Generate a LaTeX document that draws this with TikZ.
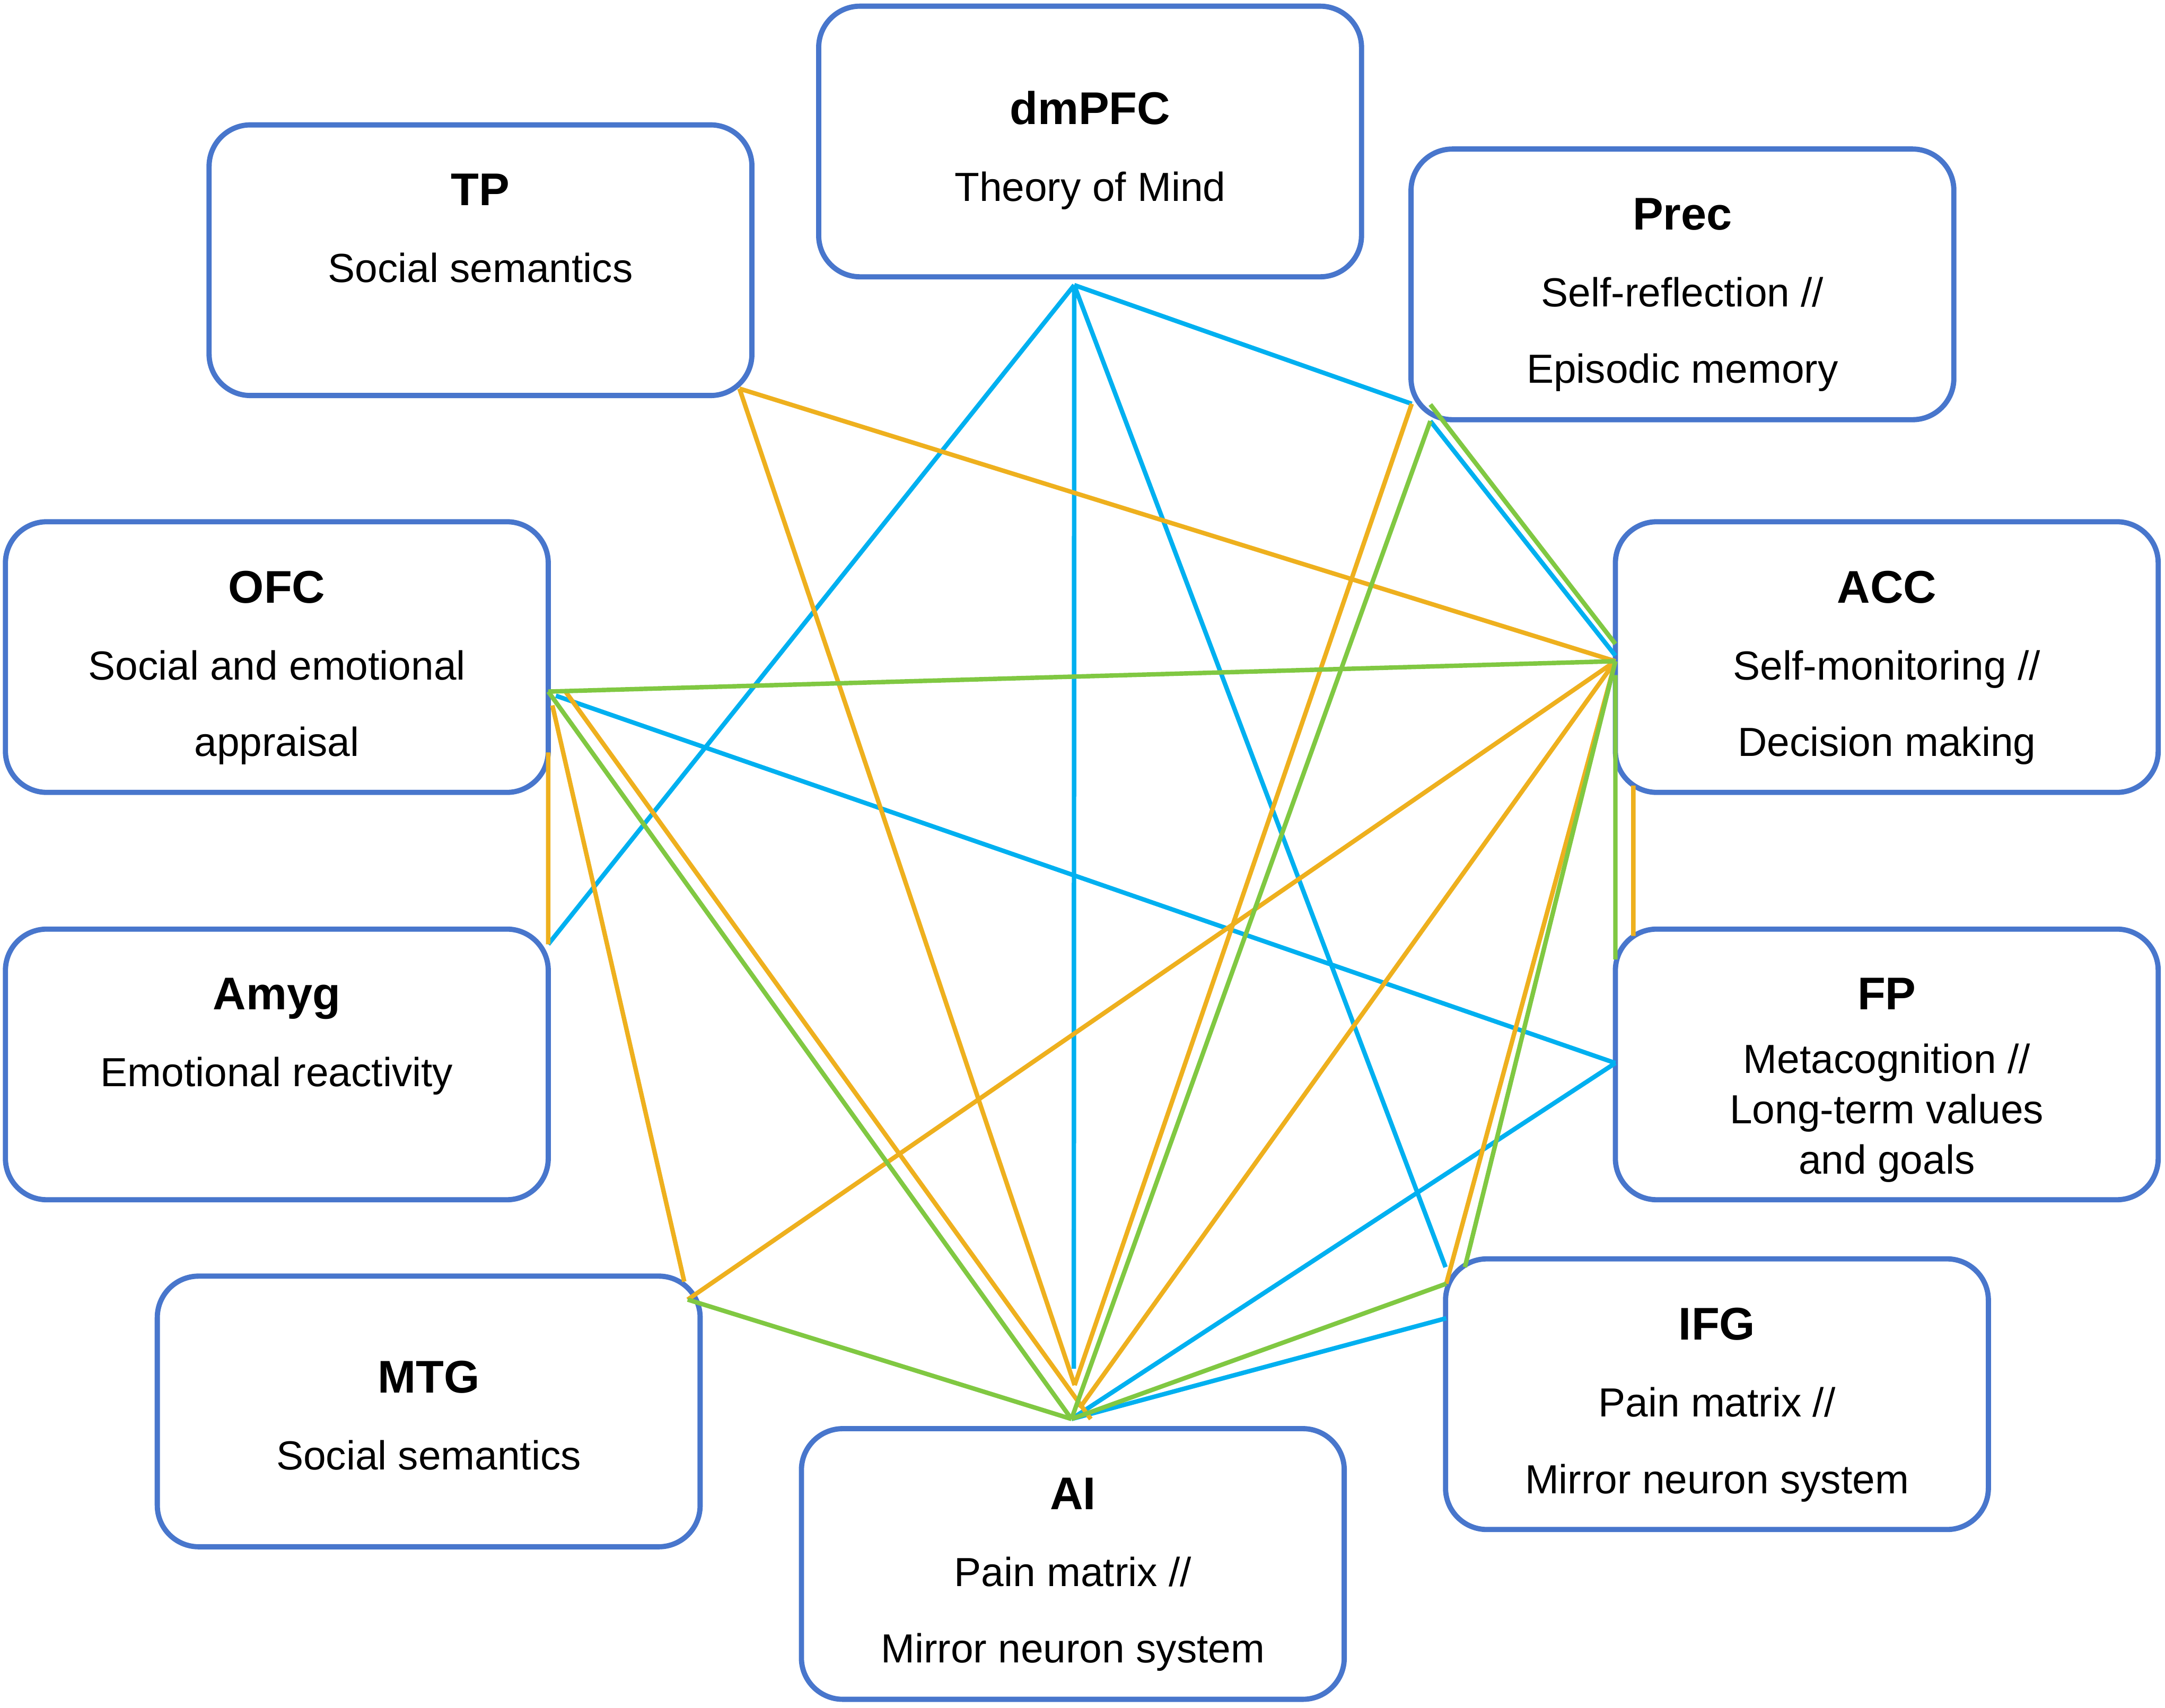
\documentclass[tikz,border=0pt]{standalone}
\usepackage{fontspec}
\setmainfont{Liberation Sans}
\usetikzlibrary{positioning,calc}
\definecolor{boxblue}{RGB}{72,118,204}
\definecolor{lnblue}{RGB}{0,176,240}
\definecolor{lnorange}{RGB}{238,176,30}
\definecolor{lngreen}{RGB}{128,200,66}
\newcommand{\areaname}[1]{{\bfseries\fontsize{12.3}{20.6}\selectfont #1}}
\tikzset{
	region/.style={
		rectangle,
		rounded corners=0.39cm,
		draw=boxblue,
		line width=1.4pt,
		fill=white,
		minimum width=5.117cm,
		minimum height=2.552cm,
		inner sep=0pt,
		outer sep=0pt,
	},
	caption/.style={
		anchor=north,
		align=center,
		inner sep=0pt,
		font=\fontsize{10.9}{20.6}\selectfont,
	},
}

\begin{document}
\begin{tikzpicture}[x=0.01302cm, y=-0.01302cm]

	\tikzstyle{blueline}=[draw=lnblue,line width=1.2pt]
	\tikzstyle{orangeline}=[draw=lnorange,line width=1.2pt]
	\tikzstyle{greenline}=[draw=lngreen,line width=1.2pt]

	\useasboundingbox (0,0) rectangle (1568,1237);

	\node [region] (dmpfc) at (789.5,102.5) {};
	\node [region] (tp) at (348,188.5) {};
	\node [region] (prec) at (1218.5,206) {};
	\node [region] (ofc) at (200.5,476) {};
	\node [region] (acc) at (1366.5,476) {};
	\node [region] (amyg) [below=1.289cm of ofc] {};
	\node [region] (fp) [below=1.289cm of acc] {};
	\node [region] (mtg) at (310.5,1022.5) {};
	\node [region] (ifg) at (1243.5,1010) {};
	\node [region] (ai) at (777,1133) {};

	\node [caption] (dmpfcT) at ([yshift=-0.794cm]dmpfc.north) {\areaname{dmPFC}\\Theory of Mind};
	\node [caption] (tpT) at ([yshift=-0.456cm]tp.north) {\areaname{TP}\\Social semantics};
	\node [caption] (precT) at ([yshift=-0.456cm]prec.north) {\areaname{Prec}\\Self-reflection //\\Episodic memory};
	\node [caption] (ofcT) at ([yshift=-0.456cm]ofc.north) {\areaname{OFC}\\Social and emotional\\appraisal};
	\node [caption] (accT) at ([yshift=-0.456cm]acc.north) {\areaname{ACC}\\Self-monitoring //\\Decision making};
	\node [caption] (amygT) at ([yshift=-0.456cm]amyg.north) {\areaname{Amyg}\\Emotional reactivity};
	\node [caption, font=\fontsize{10.9}{13.5}\selectfont] (fpT) at ([yshift=-0.456cm]fp.north) {\areaname{FP}\\[3.5pt]Metacognition //\\Long-term values\\and goals};
	\node [caption] (mtgT) at ([yshift=-0.794cm]mtg.north) {\areaname{MTG}\\Social semantics};
	\node [caption] (ifgT) at ([yshift=-0.456cm]ifg.north) {\areaname{IFG}\\Pain matrix //\\Mirror neuron system};
	\node [caption] (aiT) at ([yshift=-0.456cm]ai.north) {\areaname{AI}\\Pain matrix //\\Mirror neuron system};

	% where the links meet the boxes
	\coordinate (dmH) at ($(dmpfc.south)+(-11.5,6)$);
	\coordinate (tpC) at ($(tp.south east)+(-9,-5)$);
	\coordinate (precA) at ($(prec.south west)+(0.5,-11.5)$);
	\coordinate (precB) at ($(prec.south west)+(14,-11)$);
	\coordinate (precC) at ($(prec.south west)+(14,1)$);
	\coordinate (ofcH) at ($(ofc.east)+(0,25)$);
	\coordinate (ofcB) at ($(ofc.east)+(5.5,28)$);
	\coordinate (ofcO) at ($(ofc.east)+(12.5,25)$);
	\coordinate (ofcM) at ($(ofc.east)+(3,35)$);
	\coordinate (ofcS) at ($(ofc.south east)+(0,-29)$);
	\coordinate (accH) at ($(acc.west)+(0,3)$);
	\coordinate (accG) at ($(acc.west)+(0,-9.5)$);
	\coordinate (accB) at ($(acc.west)+(0,-1)$);
	\coordinate (accV) at ($(acc.west)+(0,13)$);
	\coordinate (accO) at ($(acc.south west)+(13,-5)$);
	\coordinate (amygC) at ($(amyg.north east)+(0,11)$);
	\coordinate (fpH) at ($(fp.west)+(0,-1)$);
	\coordinate (fpG) at ($(fp.north west)+(0,22)$);
	\coordinate (fpO) at ($(fp.north west)+(13,5)$);
	\coordinate (mtgA) at ($(mtg.north east)+(-11.5,4)$);
	\coordinate (mtgB) at ($(mtg.north east)+(-9,17)$);
	\coordinate (ifgA) at ($(ifg.north west)+(0,6)$);
	\coordinate (ifgB) at ($(ifg.north west)+(0.5,18)$);
	\coordinate (ifgC) at ($(ifg.north west)+(14,6)$);
	\coordinate (ifgD) at ($(ifg.north west)+(0.5,43)$);
	\coordinate (aiH) at ($(ai.north)+(-1,-7)$);
	\coordinate (aiB) at ($(ai.north)+(0.7,-43.5)$);
	\coordinate (aiT) at ($(ai.north)+(1.3,-31.5)$);
	\coordinate (aiR) at ($(ai.north)+(5,-15)$);
	\coordinate (aiO) at ($(ai.north)+(13,-7)$);

	% blue links
	\draw [blueline] (dmH) -- (amygC) (dmH) -- (aiB) (dmH) -- (ifgA) (dmH) -- (precA);
	\draw [blueline] (precC) -- (accB) (ofcB) -- (fpH) (aiH) -- (fpH) (aiH) -- (ifgD);

	% orange links
	\draw [orangeline] (tpC) -- (aiT) (tpC) -- (accH) (precA) -- (aiT);
	\draw [orangeline] (ofcS) -- (amygC) (ofcM) -- (mtgA) (ofcO) -- (aiO);
	\draw [orangeline] (accH) -- (mtgB) (accH) -- (aiR) (accH) -- (ifgB) (accO) -- (fpO);

	% green links
	\draw [greenline] (ofcH) -- (accH) (ofcH) -- (aiH) (mtgB) -- (aiH);
	\draw [greenline] (precB) -- (accG) (precC) -- (aiH);
	\draw [greenline] (accV) -- (fpG) (accH) -- (ifgC) (ifgB) -- (aiH);

\end{tikzpicture}
\end{document}
